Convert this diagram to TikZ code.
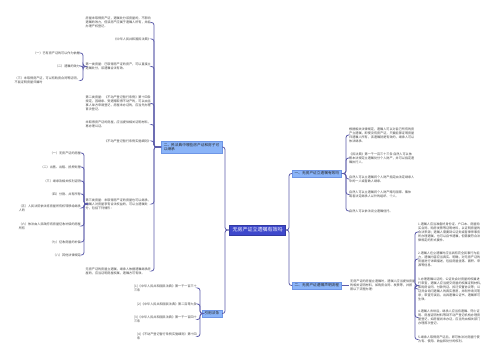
\documentclass[tikz,border=0pt]{standalone}
\usepackage{fontspec}
\setmainfont{Noto Sans CJK SC}
\definecolor{connc}{RGB}{92,92,170}
\definecolor{cfill}{RGB}{62,72,204}
\definecolor{bfill}{RGB}{138,180,248}
\definecolor{bdraw}{RGB}{110,150,230}
\definecolor{leaftext}{RGB}{70,70,70}
\tikzset{
  connline/.style={draw=connc, line width=0.8pt, rounded corners=2.5pt},
  centerbox/.style={fill=cfill, draw=cfill!80!black, line width=0.4pt, text=white,
    font=\fontsize{5}{6}\selectfont, inner xsep=3pt, inner ysep=2.6pt},
  branchbox/.style={fill=bfill, draw=bdraw, line width=0.4pt, text=black!85,
    font=\fontsize{3.7}{4.6}\selectfont, inner xsep=2.5pt, inner ysep=2pt, align=left},
  leafL/.style={anchor=east, align=left, text=leaftext,
    font=\fontsize{3.1}{4.0}\selectfont, inner sep=1pt},
  leafR/.style={anchor=west, align=left, text=leaftext,
    font=\fontsize{3.1}{4.0}\selectfont, inner sep=1pt},
}
\begin{document}
\begin{tikzpicture}[x=1pt,y=-1pt]
\fill[white] (0,0) rectangle (500,360);
\useasboundingbox (0,0) rectangle (500,360);

% bracket x positions
\coordinate (bC) at (225,0);
\coordinate (bR) at (289,0);
\coordinate (bL1) at (154,0);
\coordinate (bG) at (83,0);
\coordinate (bH) at (84,0);
\coordinate (bL2) at (200,0);
\coordinate (bR1) at (346,0);
\coordinate (bQ) at (415,0);

% main nodes
\node[centerbox] (c) at (257.5,230) {无房产证立遗嘱有效吗};
\node[branchbox, anchor=west] (R1) at (292,173.5) {一、无房产证立遗嘱有效吗};
\node[branchbox, anchor=west] (R2) at (292,285.5) {二、无房产证遗嘱声明流程};
\node[branchbox, anchor=east] (L1) at (222,147) {二、民法典中哪些房产证和房子可\\以继承};
\node[branchbox, anchor=east] (L2) at (222,313.5) {引用法条};

% left branch 1 leaves
\node[leafL] (c1) at (152,22.5) {房屋未取得房产证，遗嘱处分该房屋的，不影响\\遗嘱的效力，但该房产应属于遗嘱人所有，并能\\办理产权登记。};
\node[leafL] (c2) at (152,39) {《中华人民共和国民法典》};
\node[leafL] (c3) at (152,66.5) {第一类房屋：已取得房产证的房产，可以直接立\\遗嘱处分，该遗嘱合法有效。};
\node[leafL] (c4) at (152,103.5) {第二类房屋：《不动产登记暂行条例》第十四条\\规定，因继承、受遗赠取得不动产的，可以由当\\事人单方申请登记，房屋未办证的，应当先办理\\首次登记。};
\node[leafL] (c5) at (152,124.5) {未取得房产证的房屋，应当提供相关证明材料，\\再办理公证。};
\node[leafL] (c6) at (152,141) {《不动产登记暂行条例实施细则》};
\node[leafL] (c7) at (152,204) {第三类房屋：未取得房产证的房屋也可以继承，\\遗嘱人对房屋享有合法权益的，可以立遗嘱处\\分，包括下列情形：};
\node[leafL] (c8) at (152,271) {无房产证的房屋立遗嘱，继承人依据遗嘱继承房\\屋的，应当证明房屋权属，遗嘱方可有效。};

\node[leafL] (g1) at (81,53) {（一）已有房产证的可以作为依据};
\node[leafL] (g2) at (81,66) {（二）遗嘱的效力};
\node[leafL] (g3) at (81,80.5) {（三）未取得房产证，可以有购房合同等证明，\\不能证明房屋归属时};

\node[leafL] (h1) at (82,153) {（一）无房产证的房屋};
\node[leafL] (h2) at (82,167) {（二）出售、出租、抵押处理};
\node[leafL] (h3) at (82,181) {（三）继承及相关权利证明};
\node[leafL] (h4) at (82,194) {（四）分割、共有所有};
\node[leafL] (h5) at (82,208) {（五）人民法院依法将房屋所有权转移给继承\\人的};
\node[leafL] (h6) at (82,226) {（六）依法由人民政府将房屋征收补偿的房屋\\所有};
\node[leafL] (h7) at (82,242) {（七）征收房屋的补偿};
\node[leafL] (h8) at (82,255) {（八）其他法律规定};

% references
\node[leafL] (r1) at (198,288) {[1]《中华人民共和国民法典》第一千一百三十\\三条};
\node[leafL] (r2) at (198,304) {[2]《中华人民共和国民法典》第二百零九条};
\node[leafL] (r3) at (198,319.5) {[3]《中华人民共和国民法典》第一千一百四十\\三条};
\node[leafL] (r4) at (198,336.5) {[4]《不动产登记暂行条例实施细则》第十四\\条};

% right branch 1 leaves
\node[leafR] (a1) at (348,135) {根据相关法律规定，遗嘱人可以对自己所有的房\\产立遗嘱，即使没有房产证，只要能够证明房屋\\归遗嘱人所有，该遗嘱就是有效的，继承人可以\\依法继承。};
\node[leafR] (a2) at (348,158) {《民法典》第一千一百三十三条 自然人可以依\\照本法规定立遗嘱处分个人财产，并可以指定遗\\嘱执行人。};
\node[leafR] (a3) at (348,179) {自然人可以立遗嘱将个人财产指定由法定继承人\\中的一人或者数人继承。};
\node[leafR] (a4) at (348,194.5) {自然人可以立遗嘱将个人财产赠与国家、集体\\或者法定继承人以外的组织、个人。};
\node[leafR] (a5) at (348,211) {自然人可以依法设立遗嘱信托。};

% right branch 2
\node[leafR] (p) at (349,285.5) {无房产证的房屋立遗嘱时，遗嘱人应当提供房屋\\的相关证明材料，如购房合同、发票等，并按\\照以下流程办理：};
\node[leafR] (q1) at (417,232) {1.遗嘱人应当准备好身份证、户口本、房屋购\\买合同、购房发票等证明材料，以证明房屋的\\合法来源；遗嘱人需要到公证处或者律师事务\\所办理遗嘱，也可以自书遗嘱，但需要符合法\\律规定的形式要件。};
\node[leafR] (q2) at (417,259) {2.遗嘱人在立遗嘱时应当具有完全民事行为能\\力，遗嘱内容应当真实、明确，对无房产证的\\房屋进行详细描述，包括房屋坐落、面积、来\\源等信息。};
\node[leafR] (q3) at (417,289) {3.办理遗嘱公证的，公证处会对房屋的权属进\\行审查，遗嘱人应当提交房屋的权属证明材料，\\如购房合同、付款凭证、拆迁安置协议等；公\\证员会询问遗嘱人的真实意愿，并制作询问笔\\录；审查无误后，出具遗嘱公证书，遗嘱即可\\生效。};
\node[leafR] (q4) at (417,317.5) {4.遗嘱人去世后，继承人应当持遗嘱、死亡证\\明、房屋证明材料等到不动产登记机构办理房\\屋登记，如房屋尚未办证，应当先由相关部门\\办理首次登记。};
\node[leafR] (q5) at (417,339.5) {5.继承人取得房产证后，即可依法对房屋行使\\占有、使用、收益和处分的权利。};

% connectors: center
\foreach \n in {L1,L2} \draw[connline] (c.west) -- (c.west -| bC) |- (\n.east);
\foreach \n in {R1,R2} \draw[connline] (c.east) -- (c.east -| bR) |- (\n.west);
% L1
\foreach \n in {c1,c2,c3,c4,c5,c6,c7,c8} \draw[connline] (L1.west) -- (L1.west -| bL1) |- (\n.east);
\foreach \n in {g1,g2,g3} \draw[connline] (c3.west) -- (c3.west -| bG) |- (\n.east);
\foreach \n in {h1,h2,h3,h4,h5,h6,h7,h8} \draw[connline] (c7.west) -- (c7.west -| bH) |- (\n.east);
% L2
\foreach \n in {r1,r2,r3,r4} \draw[connline] (L2.west) -- (L2.west -| bL2) |- (\n.east);
% R1
\foreach \n in {a1,a2,a3,a4,a5} \draw[connline] (R1.east) -- (R1.east -| bR1) |- (\n.west);
% R2
\draw[connline] (R2.east) -- (p.west);
\foreach \n in {q1,q2,q3,q4,q5} \draw[connline] (p.east) -- (p.east -| bQ) |- (\n.west);
\end{tikzpicture}
\end{document}
